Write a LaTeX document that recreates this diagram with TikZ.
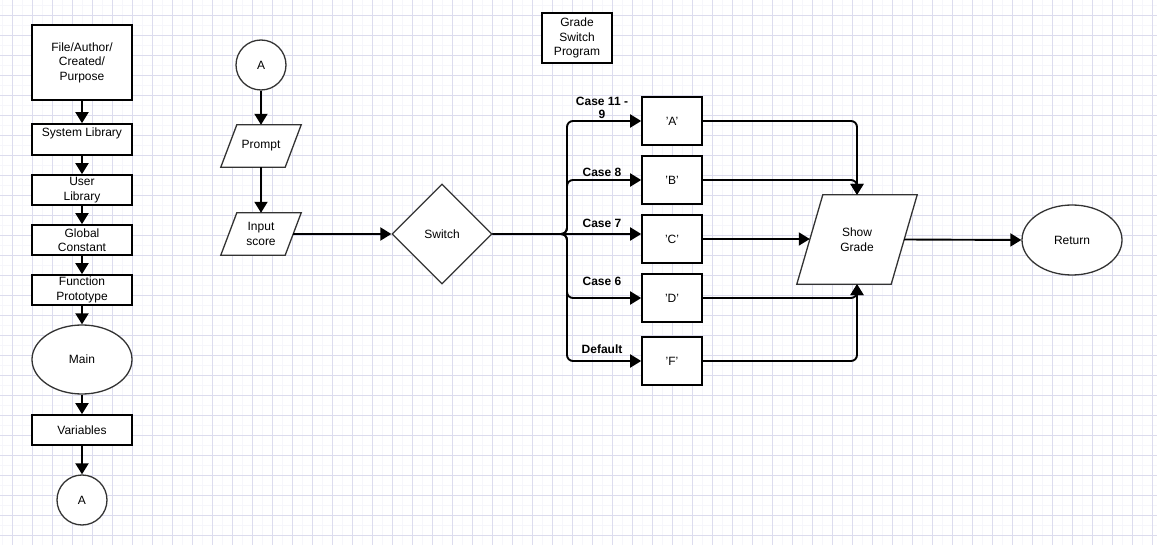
\documentclass[tikz,border=0pt]{standalone}
\usepackage{fontspec}
\setmainfont{Liberation Sans}
\usetikzlibrary{arrows.meta,shapes.geometric,calc}

\definecolor{gridmajor}{HTML}{DCDCEE}
\definecolor{gridminor}{HTML}{F6F6FB}
\definecolor{shapeline}{HTML}{333333}

\tikzset{
  txt/.style={font=\fontsize{12}{14.5}\selectfont, align=center, inner sep=0pt},
  procbox/.style={txt, draw=black, line width=1.7pt, fill=white, rectangle},
  casebox/.style={txt, draw=black, line width=1.6pt, fill=white, rectangle,
                  minimum width=60pt, minimum height=48pt},
  roundshape/.style={txt, draw=shapeline, line width=1.3pt, fill=white},
  ioshape/.style={txt, rectangle, draw=none},
  ioline/.style={draw=shapeline, line width=1.3pt, fill=white},
  conn/.style={-{Triangle[length=11pt,width=13pt]}, line width=1.9pt, black,
               rounded corners=6pt},
  caselabel/.style={font=\bfseries\fontsize{12}{13}\selectfont, align=center,
                    inner sep=0pt}
}

\begin{document}
\begin{tikzpicture}[x=1pt,y=-1pt]
  % page and grid paper
  \useasboundingbox (0,0) rectangle (1157,545);
  \fill[white] (0,0) rectangle (1157,545);
  \foreach \x in {2.7,22.7,...,1157} \draw[gridminor, line width=0.6pt] (\x,0) -- (\x,545);
  \foreach \y in {5,25,...,545} \draw[gridminor, line width=0.6pt] (0,\y) -- (1157,\y);
  \foreach \x in {12.7,32.7,...,1157} \draw[gridmajor, line width=0.8pt] (\x,0) -- (\x,545);
  \foreach \y in {15,35,...,545} \draw[gridmajor, line width=0.8pt] (0,\y) -- (1157,\y);

  % program header column
  \node[procbox, minimum width=100pt, minimum height=75pt] (file) at (82,62.5)
    {File/Author/\\Created/\\Purpose};
  \node[procbox, minimum width=100pt, minimum height=31pt] (syslib) at (82,139.5)
    {System Library\\\mbox{}};
  \node[procbox, minimum width=100pt, minimum height=30pt] (userlib) at (82,190)
    {User\\Library};
  \node[procbox, minimum width=100pt, minimum height=30pt] (global) at (82,240)
    {Global\\Constant};
  \node[procbox, minimum width=100pt, minimum height=30pt] (proto) at (82,290)
    {Function\\Prototype};
  \node[roundshape, ellipse, minimum width=100pt, minimum height=69pt] (main) at (82,359.5)
    {Main};
  \node[procbox, minimum width=100pt, minimum height=30pt] (vars) at (82,430)
    {Variables};
  \node[roundshape, circle, minimum size=50pt] (offA) at (82,500) {A};

  \draw[conn] (file) -- (syslib);
  \draw[conn] (syslib) -- (userlib);
  \draw[conn] (userlib) -- (global);
  \draw[conn] (global) -- (proto);
  \draw[conn] (proto) -- (main);
  \draw[conn] (main) -- (vars);
  \draw[conn] (vars) -- (offA);

  % input part
  \node[roundshape, circle, minimum size=50pt] (onA) at (261,65) {A};
  \node[ioshape, minimum width=64pt, minimum height=42pt] (prompt) at (261,146) {};
  \draw[ioline] ([xshift=8pt]prompt.north west) -- ([xshift=8pt]prompt.north east)
    -- ([xshift=-8pt]prompt.south east) -- ([xshift=-8pt]prompt.south west) -- cycle;
  \node[txt] at (prompt) {Prompt};
  \node[ioshape, minimum width=64pt, minimum height=42pt] (input) at (261,234) {};
  \draw[ioline] ([xshift=8pt]input.north west) -- ([xshift=8pt]input.north east)
    -- ([xshift=-8pt]input.south east) -- ([xshift=-8pt]input.south west) -- cycle;
  \node[txt] at (input) {Input\\score};

  \node[roundshape, diamond, minimum width=100pt, minimum height=100pt, shape aspect=1]
    (switch) at (442,234) {Switch};

  \draw[conn] (onA) -- (prompt);
  \draw[conn] (prompt) -- (input);
  \draw[conn] (input.east) -- (switch.west);

  % title
  \node[procbox, line width=1.6pt, minimum width=70pt, minimum height=50pt] (title) at (577,38)
    {Grade\\Switch\\Program};

  % cases
  \node[casebox] (gA) at (672,121) {'A'};
  \node[casebox] (gB) at (672,180) {'B'};
  \node[casebox] (gC) at (672,239) {'C'};
  \node[casebox] (gD) at (672,298) {'D'};
  \node[casebox] (gF) at (672,361) {'F'};

  \coordinate (bus) at (567,234);
  \draw[conn] (switch.east) -- (bus) |- (gA.west);
  \draw[conn] (switch.east) -- (bus) |- (gB.west);
  \draw[conn] (switch.east) -- (switch.east -| gC.west);
  \draw[conn] (switch.east) -- (bus) |- (gD.west);
  \draw[conn] (switch.east) -- (bus) |- (gF.west);

  \node[caselabel] (l11) at (602,107.5) {Case 11 -\\9};
  \node[caselabel] (l8) at (602,172) {Case 8};
  \node[caselabel] (l7) at (602,223) {Case 7};
  \node[caselabel] (l6) at (602,281) {Case 6};
  \node[caselabel] (ldef) at (602,349) {Default};

  % output
  \node[ioshape, minimum width=94pt, minimum height=89pt] (show) at (857,239.5) {};
  \draw[ioline] ([xshift=13pt]show.north west) -- ([xshift=13pt]show.north east)
    -- ([xshift=-13pt]show.south east) -- ([xshift=-13pt]show.south west) -- cycle;
  \node[txt] at (show) {Show\\Grade};

  \node[roundshape, ellipse, minimum width=100pt, minimum height=70pt] (ret) at (1072,240)
    {Return};

  \draw[conn] (gA.east) -| (show.north);
  \draw[conn] (gB.east) -| (show.north);
  \draw[conn] (gC.east) -- (gC.east -| show.west);
  \draw[conn] (gD.east) -| (show.south);
  \draw[conn] (gF.east) -| (show.south);
  \draw[conn] (show.east) -- (ret.west);
\end{tikzpicture}
\end{document}
